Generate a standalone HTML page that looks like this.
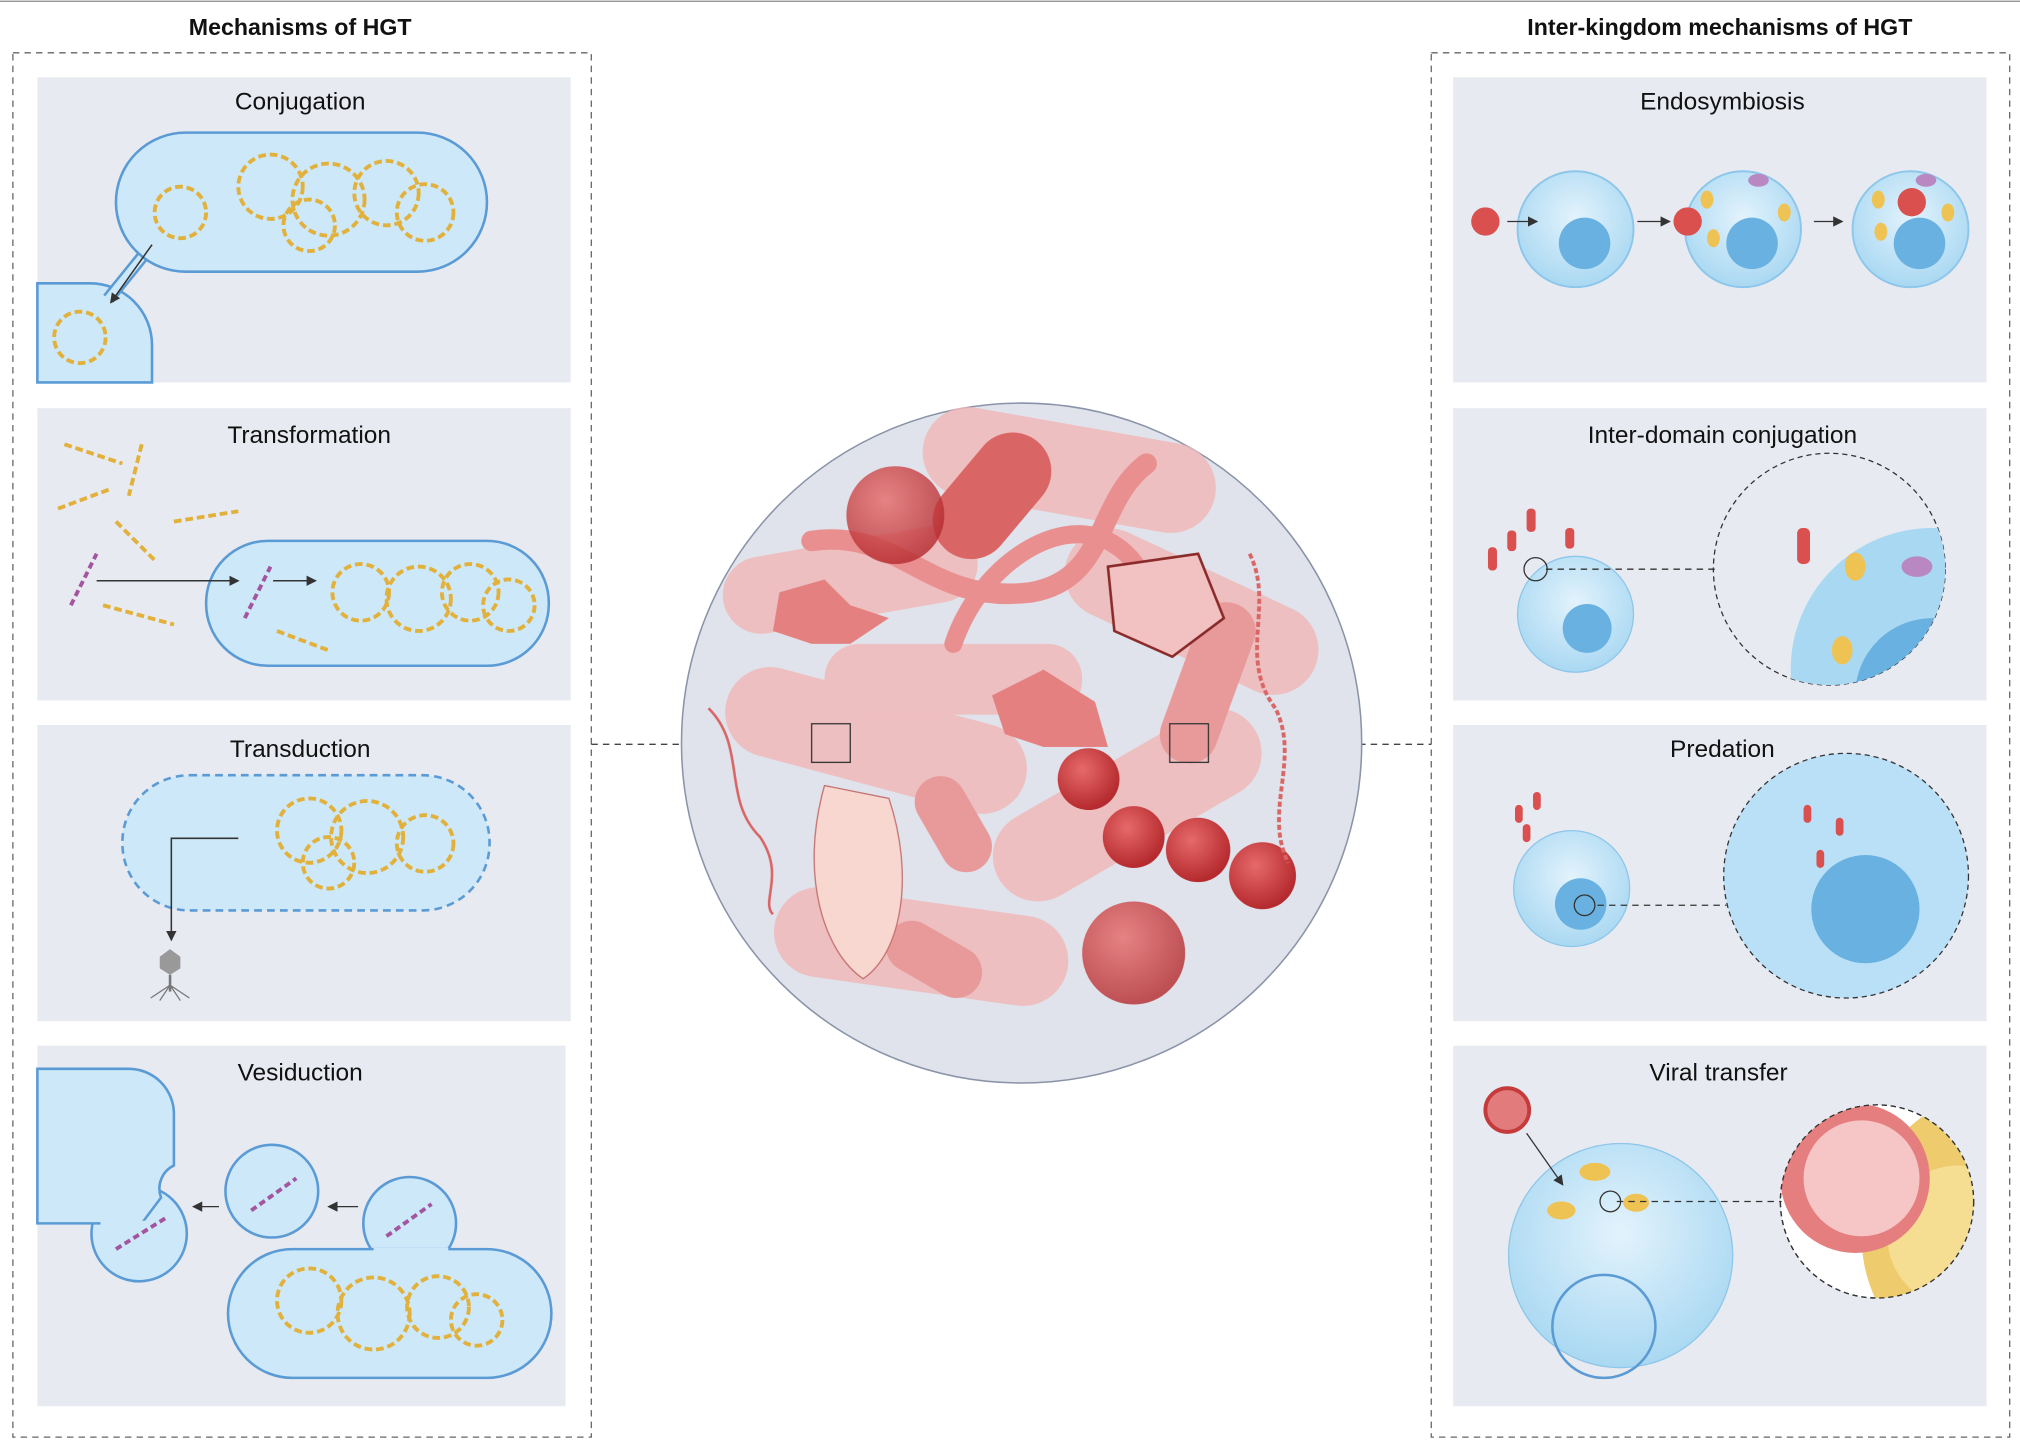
<!DOCTYPE html>
<html><head><meta charset="utf-8"><style>
html,body{margin:0;padding:0;background:#fff;}
svg{display:block;}
text{font-family:"Liberation Sans",sans-serif;fill:#111;}
</style></head><body>
<svg width="2020" height="1450" viewBox="0 0 1568 1126" preserveAspectRatio="none" xmlns="http://www.w3.org/2000/svg">
<defs>
<radialGradient id="cell" cx="50%" cy="40%" r="60%"><stop offset="0" stop-color="#e3f3fc"/><stop offset="1" stop-color="#a9d8f2"/></radialGradient>
<radialGradient id="red" cx="40%" cy="35%" r="65%"><stop offset="0" stop-color="#e76a6a"/><stop offset="1" stop-color="#b52a2e"/></radialGradient>
<marker id="ar" markerWidth="8" markerHeight="8" refX="7" refY="4" orient="auto" markerUnits="userSpaceOnUse"><path d="M0,0 L8,4 L0,8 Z" fill="#333"/></marker>
<clipPath id="c1"><circle cx="1420" cy="442" r="90"/></clipPath>
<clipPath id="c2"><circle cx="1457" cy="933" r="75"/></clipPath>
</defs>
<rect width="1568" height="1126" fill="#fff"/>
<line x1="0" y1="1" x2="1568" y2="1" stroke="#888" stroke-width="1"/>
<text x="233" y="27" font-size="18" font-weight="bold" text-anchor="middle">Mechanisms of HGT</text>
<text x="1335" y="27" font-size="18" font-weight="bold" text-anchor="middle">Inter-kingdom mechanisms of HGT</text>
<rect x="10" y="41" width="449" height="1075" fill="none" stroke="#666" stroke-dasharray="5,4"/>
<rect x="1111" y="41" width="449" height="1075" fill="none" stroke="#666" stroke-dasharray="5,4"/>
<g fill="#e8eaf1">
<rect x="29" y="60" width="414" height="237"/><rect x="29" y="317" width="414" height="227"/>
<rect x="29" y="563" width="414" height="230"/><rect x="29" y="812" width="410" height="280"/>
<rect x="1128" y="60" width="414" height="237"/><rect x="1128" y="317" width="414" height="227"/>
<rect x="1128" y="563" width="414" height="230"/><rect x="1128" y="812" width="414" height="280"/>
</g>
<g font-size="19" text-anchor="middle">
<text x="233" y="85">Conjugation</text><text x="240" y="344">Transformation</text>
<text x="233" y="588">Transduction</text><text x="233" y="839">Vesiduction</text>
<text x="1337" y="85">Endosymbiosis</text><text x="1337" y="344">Inter-domain conjugation</text>
<text x="1337" y="588">Predation</text><text x="1334" y="839">Viral transfer</text>
</g>
<!-- Conjugation -->
<g stroke="#5b9bd5" stroke-width="2" fill="#cde8f8">
<path d="M29 220 H70 A48 48 0 0 1 118 268 V297 H29 Z"/>
<path d="M84 232 L118 190" stroke-width="10" stroke="#5b9bd5"/>
<path d="M84 232 L118 190" stroke-width="6" stroke="#cde8f8"/>
<rect x="90" y="103" width="288" height="108" rx="54"/>
</g>
<line x1="118" y1="190" x2="86" y2="235" stroke="#333" stroke-width="1.2" marker-end="url(#ar)"/>
<g fill="none" stroke="#e2b13c" stroke-width="3" stroke-dasharray="6,3">
<circle cx="140" cy="165" r="20"/><circle cx="210" cy="145" r="25"/><circle cx="255" cy="155" r="28"/><circle cx="300" cy="150" r="25"/><circle cx="330" cy="165" r="22"/><circle cx="240" cy="175" r="20"/>
<circle cx="62" cy="262" r="20"/>
</g>
<!-- Transformation -->
<rect x="160" y="420" width="266" height="97" rx="48" fill="#cde8f8" stroke="#5b9bd5" stroke-width="2"/>
<g fill="none" stroke="#e2b13c" stroke-width="3" stroke-dasharray="6,3">
<circle cx="280" cy="460" r="22"/><circle cx="325" cy="465" r="25"/><circle cx="365" cy="460" r="22"/><circle cx="395" cy="470" r="20"/>
<path d="M50 345 l45 15 M110 345 l-10 40 M45 395 l40 -15 M90 405 l30 30 M135 405 l50 -8 M80 470 l55 15 M215 490 l40 15"/>
</g>
<path d="M55 470 l20 -40 M190 480 l20 -40" stroke="#a455a0" stroke-width="3" stroke-dasharray="5,3"/>
<line x1="75" y1="451" x2="185" y2="451" stroke="#333" stroke-width="1.2" marker-end="url(#ar)"/>
<line x1="212" y1="451" x2="245" y2="451" stroke="#333" stroke-width="1.2" marker-end="url(#ar)"/>
<!-- Transduction -->
<rect x="95" y="602" width="285" height="105" rx="52" fill="#cde8f8" stroke="#5b9bd5" stroke-width="2" stroke-dasharray="6,4"/>
<g fill="none" stroke="#e2b13c" stroke-width="3" stroke-dasharray="6,3">
<circle cx="240" cy="645" r="25"/><circle cx="285" cy="650" r="28"/><circle cx="330" cy="655" r="22"/><circle cx="255" cy="670" r="20"/></g>
<path d="M185 651 H133 V730" fill="none" stroke="#333" stroke-width="1.2" marker-end="url(#ar)"/>
<polygon points="132,737 140,743 140,752 132,757 124,752 124,743" fill="#999"/>
<line x1="132" y1="757" x2="132" y2="770" stroke="#777" stroke-width="2"/>
<path d="M132 765 l-15 10 M132 765 l15 10 M132 765 l-8 12 M132 765 l8 12" stroke="#777"/>
<!-- Vesiduction -->
<g stroke="#5b9bd5" stroke-width="2" fill="#cde8f8">
<circle cx="108" cy="958" r="37"/>
<path d="M29 830 H100 A35 35 0 0 1 135 865 V905 A20 20 0 0 0 125 930 L110 950 H29 Z"/>
<circle cx="211" cy="925" r="36"/>
<circle cx="318" cy="950" r="36"/>
<rect x="177" y="970" width="251" height="100" rx="50"/>
</g>
<path d="M290 971 H348" stroke="#cde8f8" stroke-width="4"/>
<path d="M78 950 H135" stroke="#cde8f8" stroke-width="4"/>
<g fill="none" stroke="#e2b13c" stroke-width="3" stroke-dasharray="6,3">
<circle cx="240" cy="1010" r="25"/><circle cx="290" cy="1020" r="28"/><circle cx="340" cy="1015" r="24"/><circle cx="370" cy="1025" r="20"/></g>
<path d="M90 970 l40 -25 M195 940 l35 -25 M300 960 l35 -25" stroke="#a455a0" stroke-width="3" stroke-dasharray="5,3"/>
<line x1="170" y1="937" x2="150" y2="937" stroke="#333" marker-end="url(#ar)"/><line x1="278" y1="937" x2="255" y2="937" stroke="#333" marker-end="url(#ar)"/>
<!-- Endosymbiosis -->
<g fill="url(#cell)" stroke="#8cc6ea" stroke-width="1.5">
<circle cx="1223" cy="178" r="45"/><circle cx="1353" cy="178" r="45"/><circle cx="1483" cy="178" r="45"/></g>
<g fill="#68b1e0"><circle cx="1230" cy="189" r="20"/><circle cx="1360" cy="189" r="20"/><circle cx="1490" cy="189" r="20"/></g>
<g fill="#eec353"><ellipse cx="1325" cy="155" rx="5" ry="7"/><ellipse cx="1330" cy="185" rx="5" ry="7"/><ellipse cx="1385" cy="165" rx="5" ry="7"/><ellipse cx="1460" cy="180" rx="5" ry="7"/><ellipse cx="1512" cy="165" rx="5" ry="7"/><ellipse cx="1458" cy="155" rx="5" ry="7"/></g>
<g fill="#b987c2"><ellipse cx="1365" cy="140" rx="8" ry="5"/><ellipse cx="1495" cy="140" rx="8" ry="5"/></g>
<g fill="#d9504f"><circle cx="1153" cy="172" r="11"/><circle cx="1310" cy="172" r="11"/><circle cx="1484" cy="157" r="11"/></g>
<g stroke="#333" marker-end="url(#ar)"><line x1="1170" y1="172" x2="1193" y2="172"/><line x1="1271" y1="172" x2="1296" y2="172"/><line x1="1408" y1="172" x2="1430" y2="172"/></g>
<!-- Inter-domain -->
<circle cx="1223" cy="477" r="45" fill="url(#cell)" stroke="#8cc6ea"/><circle cx="1232" cy="488" r="19" fill="#68b1e0"/>
<circle cx="1420" cy="442" r="90" fill="#e8eaf1" stroke="#333" stroke-dasharray="4,3"/>
<g clip-path="url(#c1)"><circle cx="1500" cy="520" r="110" fill="#a9d8f2"/><circle cx="1500" cy="540" r="60" fill="#68b1e0"/>
<ellipse cx="1440" cy="440" rx="8" ry="11" fill="#eec353"/><ellipse cx="1430" cy="505" rx="8" ry="11" fill="#eec353"/><ellipse cx="1488" cy="440" rx="12" ry="8" fill="#b987c2"/></g>
<line x1="1200" y1="442" x2="1333" y2="442" stroke="#333" stroke-dasharray="5,4"/>
<circle cx="1192" cy="442" r="9" fill="none" stroke="#333"/>
<g fill="#d9504f"><rect x="1185" y="395" width="7" height="18" rx="3"/><rect x="1155" y="425" width="7" height="18" rx="3"/><rect x="1215" y="410" width="7" height="16" rx="3"/><rect x="1170" y="412" width="7" height="16" rx="3"/><rect x="1395" y="410" width="10" height="28" rx="4"/></g>
<!-- Predation -->
<circle cx="1220" cy="690" r="45" fill="url(#cell)" stroke="#8cc6ea"/><circle cx="1227" cy="702" r="20" fill="#68b1e0"/>
<circle cx="1433" cy="680" r="95" fill="#b9e0f7" stroke="#333" stroke-dasharray="4,3"/>
<circle cx="1448" cy="706" r="42" fill="#68b1e0"/>
<circle cx="1230" cy="703" r="8" fill="none" stroke="#333"/>
<line x1="1240" y1="703" x2="1340" y2="703" stroke="#333" stroke-dasharray="5,4"/>
<g fill="#d9504f"><rect x="1176" y="625" width="6" height="14" rx="3"/><rect x="1190" y="615" width="6" height="14" rx="3"/><rect x="1182" y="640" width="6" height="14" rx="3"/><rect x="1410" y="660" width="6" height="14" rx="3"/><rect x="1425" y="635" width="6" height="14" rx="3"/><rect x="1400" y="625" width="6" height="14" rx="3"/></g>
<!-- Viral transfer -->
<circle cx="1258" cy="975" r="87" fill="url(#cell)" stroke="#8cc6ea"/>
<circle cx="1245" cy="1030" r="40" fill="none" stroke="#5b9bd5" stroke-width="2"/>
<g fill="#eec353"><ellipse cx="1238" cy="910" rx="12" ry="7"/><ellipse cx="1212" cy="940" rx="11" ry="7"/><ellipse cx="1270" cy="934" rx="10" ry="7"/></g>
<circle cx="1170" cy="862" r="17" fill="#e27b7b" stroke="#c53b3b" stroke-width="3"/>
<circle cx="1457" cy="933" r="75" fill="#fff" stroke="#333" stroke-dasharray="4,3"/>
<g clip-path="url(#c2)"><circle cx="1560" cy="960" r="115" fill="#eecb6c"/><circle cx="1520" cy="960" r="55" fill="#f5dd92"/>
<circle cx="1440" cy="915" r="58" fill="#e57f7f"/><circle cx="1445" cy="915" r="45" fill="#f6c6c6"/></g>
<circle cx="1457" cy="933" r="75" fill="none" stroke="#333" stroke-dasharray="4,3"/>
<line x1="1255" y1="933" x2="1383" y2="933" stroke="#333" stroke-dasharray="5,4"/>
<circle cx="1250" cy="933" r="8" fill="none" stroke="#333"/>
<line x1="1185" y1="880" x2="1213" y2="920" stroke="#333" marker-end="url(#ar)"/>
<!-- Center -->
<line x1="459" y1="578" x2="630" y2="578" stroke="#444" stroke-dasharray="5,4"/>
<line x1="938" y1="578" x2="1111" y2="578" stroke="#444" stroke-dasharray="5,4"/>
<circle cx="793" cy="577" r="264" fill="#e0e3eb" stroke="#8a93a8" stroke-width="1.2"/>
<g fill="#f0b9b9" opacity="0.85">
<rect x="715" y="330" width="230" height="70" rx="35" transform="rotate(10 830 365)"/>
<rect x="560" y="540" width="240" height="70" rx="35" transform="rotate(15 680 575)"/>
<rect x="760" y="590" width="230" height="70" rx="35" transform="rotate(-30 875 625)"/>
<rect x="600" y="700" width="230" height="70" rx="35" transform="rotate(8 715 735)"/>
<rect x="820" y="440" width="210" height="70" rx="35" transform="rotate(25 925 475)"/>
<rect x="640" y="500" width="200" height="55" rx="27"/>
<rect x="560" y="420" width="200" height="60" rx="30" transform="rotate(-10 660 450)"/>
</g>
<rect x="740" y="330" width="60" height="110" rx="30" fill="#d96565" transform="rotate(40 770 385)"/>
<path d="M630 420 C700 410 720 470 800 460 C860 450 850 390 890 360" fill="none" stroke="#e98f8f" stroke-width="16" stroke-linecap="round"/>
<path d="M740 500 C760 440 820 400 860 420 C900 440 880 480 940 470" fill="none" stroke="#e98f8f" stroke-width="14" stroke-linecap="round"/>
<rect x="915" y="465" width="45" height="130" rx="22" fill="#e89a9a" transform="rotate(20 937 530)"/>
<rect x="720" y="600" width="40" height="80" rx="20" fill="#e89a9a" transform="rotate(-30 740 640)"/>
<rect x="705" y="705" width="40" height="80" rx="20" fill="#e89a9a" transform="rotate(-60 725 745)"/>
<circle cx="695" cy="400" r="38" fill="url(#red)" opacity="0.8"/>
<circle cx="880" cy="740" r="40" fill="url(#red)" opacity="0.8"/>
<g fill="url(#red)"><circle cx="845" cy="605" r="24"/><circle cx="880" cy="650" r="24"/><circle cx="930" cy="660" r="25"/><circle cx="980" cy="680" r="26"/></g>
<path d="M605 460 L640 450 L660 470 L690 480 L660 500 L630 500 L600 490 Z" fill="#e48080"/>
<path d="M770 540 L810 520 L850 545 L860 580 L810 580 L780 570 Z" fill="#e48080"/>
<path d="M640 610 C620 680 640 740 670 760 C700 740 710 680 690 620 Z" fill="#f7d7cf" stroke="#c57070"/>
<path d="M860 440 L930 430 L950 480 L910 510 L865 490 Z" fill="#f2c2c2" stroke="#8a2a2a" stroke-width="2"/>
<path d="M970 430 C990 470 960 510 990 550 C1010 590 980 630 1000 670" fill="none" stroke="#d96565" stroke-width="3" stroke-dasharray="4,2"/>
<path d="M550 550 C580 580 560 620 590 650 C610 680 590 700 600 710" fill="none" stroke="#d96565" stroke-width="2"/>
<rect x="630" y="562" width="30" height="30" fill="none" stroke="#333"/>
<rect x="908" y="562" width="30" height="30" fill="none" stroke="#333"/>
</svg>
</body></html>
